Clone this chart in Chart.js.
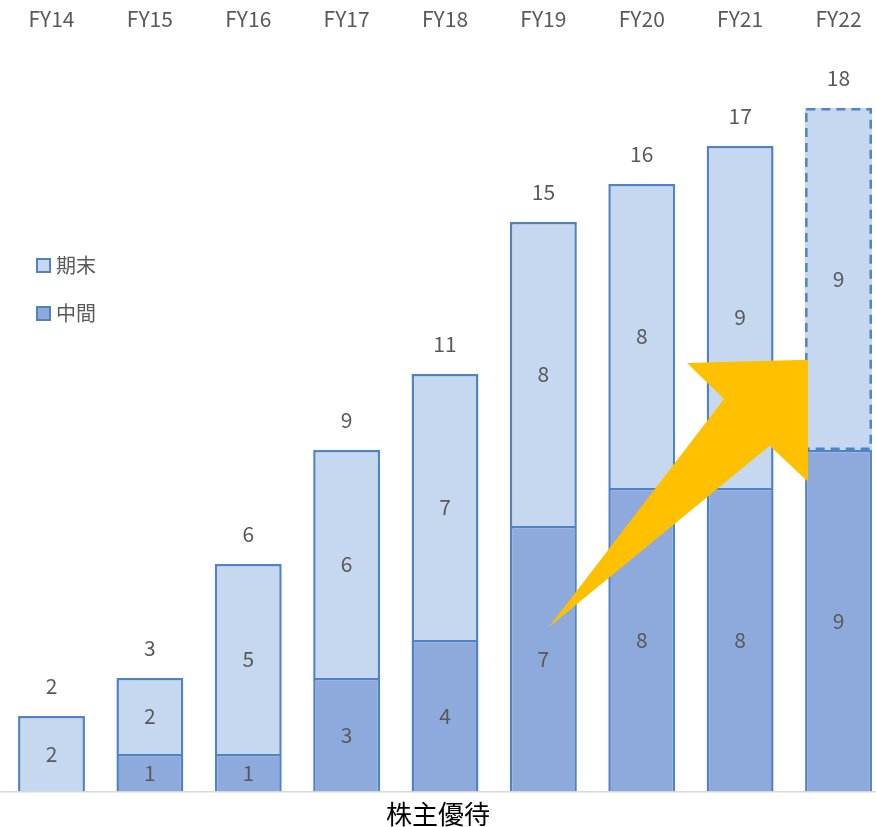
<!DOCTYPE html>
<html>
<head>
<meta charset="utf-8">
<script src="https://cdn.jsdelivr.net/npm/chart.js@4/dist/chart.umd.min.js"></script>
<style>
  html, body { margin: 0; padding: 0; background: #fff; }
  #wrap { width: 876px; height: 827px; }
</style>
</head>
<body>
<div id="wrap"><canvas id="grafica"></canvas></div>
<script>
// datos
var categorias = ['FY14','FY15','FY16','FY17','FY18','FY19','FY20','FY21','FY22'];
var chukan = [0, 1, 1, 3, 4, 7, 8, 8, 9];   // 中間
var kimatsu = [2, 2, 5, 6, 7, 8, 8, 9, 9];  // 期末
var totales = [2, 3, 6, 9, 11, 15, 16, 17, 18];
var nombreChukan = '中間';
var nombreKimatsu = '期末';
var titulo = '株主優待';

var fuente = "'Noto Sans CJK JP', 'Noto Sans', sans-serif";
var gris = '#595959';
var borde = '#5083c6';

function puntos(arr) {
  return arr.map(function (v, i) { return { x: i, y: v }; });
}

// etiquetas dentro de cada barra y total arriba
var etiquetas = {
  id: 'etiquetas',
  afterDatasetsDraw: function (chart) {
    var ctx = chart.ctx;
    ctx.save();
    ctx.fillStyle = gris;
    ctx.font = '21px ' + fuente;
    ctx.textAlign = 'center';
    ctx.textBaseline = 'middle';
    chart.data.datasets.forEach(function (ds, d) {
      chart.getDatasetMeta(d).data.forEach(function (bar, i) {
        var v = ds.data[i].y;
        if (v > 0) ctx.fillText(v, bar.x, (bar.y + bar.base) / 2);
      });
    });
    var arriba = chart.getDatasetMeta(1).data;
    arriba.forEach(function (bar, i) {
      ctx.fillText(totales[i], bar.x, bar.y - 30);
    });
    ctx.restore();
  }
};

// borde punteado de FY22 期末
var punteado = {
  id: 'punteado',
  afterDatasetsDraw: function (chart) {
    var bar = chart.getDatasetMeta(1).data[8];
    var ctx = chart.ctx;
    var w = bar.width / 2;
    ctx.save();
    ctx.strokeStyle = borde;
    ctx.lineWidth = 2.5;
    ctx.setLineDash([9, 6]);
    ctx.strokeRect(bar.x - w + 1.25, bar.y + 1.25, bar.width - 2.5, bar.base - bar.y - 2.5);
    ctx.restore();
  }
};

// flecha amarilla (en unidades de datos)
var flechaPts = [[5.057, 4.34], [6.836, 10.34], [6.46, 11.29], [7.69, 11.37], [7.69, 8.16], [7.30, 9.11]];
var flecha = {
  id: 'flecha',
  afterDatasetsDraw: function (chart) {
    var x = chart.scales.x, y = chart.scales.y, ctx = chart.ctx;
    ctx.save();
    ctx.fillStyle = '#ffc000';
    ctx.beginPath();
    flechaPts.forEach(function (p, k) {
      var px = x.getPixelForValue(p[0]), py = y.getPixelForValue(p[1]);
      if (k === 0) ctx.moveTo(px, py); else ctx.lineTo(px, py);
    });
    ctx.closePath();
    ctx.fill();
    ctx.restore();
  }
};

// leyenda a mano
var leyenda = {
  id: 'leyenda',
  afterDraw: function (chart) {
    var ctx = chart.ctx;
    var items = [[nombreKimatsu, chart.data.datasets[1].backgroundColor, 265], [nombreChukan, chart.data.datasets[0].backgroundColor, 313]];
    ctx.save();
    ctx.font = '20px ' + fuente;
    ctx.textBaseline = 'middle';
    items.forEach(function (it) {
      ctx.fillStyle = it[1];
      ctx.fillRect(37, it[2] - 6, 13, 13);
      ctx.strokeStyle = borde;
      ctx.lineWidth = 2;
      ctx.strokeRect(37, it[2] - 6, 13, 13);
      ctx.fillStyle = gris;
      ctx.fillText(it[0], 56, it[2]);
    });
    ctx.restore();
  }
};

var grafica = new Chart(document.getElementById('grafica'), {
  type: 'bar',
  data: {
    datasets: [{
      label: nombreChukan,
      data: puntos(chukan),
      backgroundColor: '#8eaadc',
      borderColor: borde,
      borderWidth: 2.5,
      borderSkipped: 'start'
    }, {
      label: nombreKimatsu,
      data: puntos(kimatsu),
      backgroundColor: '#c6d8ef',
      borderColor: borde,
      borderWidth: function (c) { return c.dataIndex === 8 ? 0 : 2.5; },
      borderSkipped: 'start'
    }]
  },
  options: {
    responsive: true,
    maintainAspectRatio: false,
    animation: false,
    categoryPercentage: 0.85,
    barPercentage: 0.8,
    layout: { padding: 0 },
    scales: {
      x: {
        type: 'linear',
        position: 'top',
        stacked: true,
        offset: false,
        min: -0.5235,
        max: 8.381,
        grid: { display: false },
        border: { display: false },
        afterFit: function (s) { s.height = 60; s.paddingLeft = 0; s.paddingRight = 0; },
        ticks: {
          stepSize: 1,
          includeBounds: false,
          autoSkip: false,
          maxRotation: 0,
          padding: 20,
          color: gris,
          font: { family: fuente, size: 21 },
          callback: function (v) { return Number.isInteger(v) ? categorias[v] : ''; }
        }
      },
      y: {
        stacked: true,
        min: 0,
        max: 19.26,
        afterFit: function (s) { s.width = 0; },
        border: { display: false },
        grid: {
          drawTicks: false,
          color: function (c) { return c.tick && c.tick.value === 0 ? '#d9d9d9' : 'rgba(0,0,0,0)'; },
          lineWidth: 1.5
        },
        ticks: { display: false, stepSize: 5 }
      }
    },
    plugins: {
      legend: { display: false },
      tooltip: { enabled: false },
      title: {
        display: true,
        text: titulo,
        position: 'bottom',
        color: '#000',
        font: { family: fuente, size: 26, weight: 'normal', lineHeight: 1 },
        padding: { top: 9, bottom: 0 }
      }
    }
  },
  plugins: [punteado, flecha, etiquetas, leyenda]
});
</script>
</body>
</html>
